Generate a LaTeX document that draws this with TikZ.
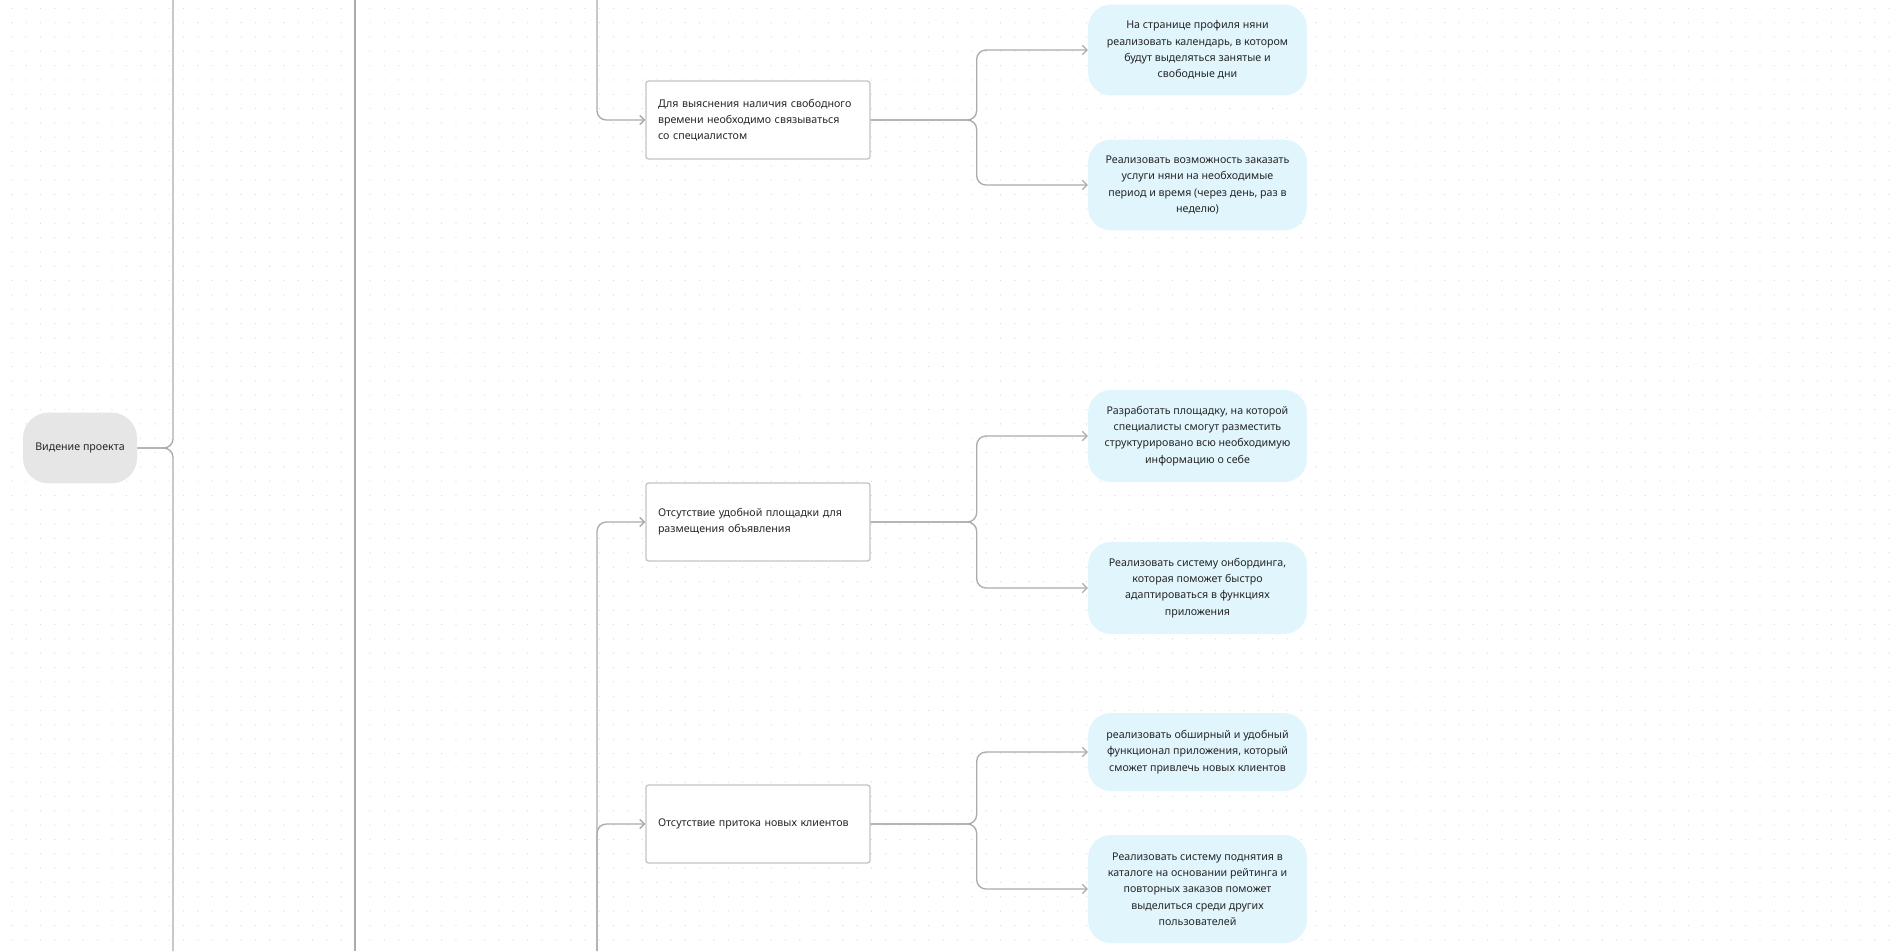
\documentclass[tikz,border=0pt]{standalone}
\usepackage{fontspec}
\setmainfont{Noto Sans}
\usetikzlibrary{arrows.meta}

\definecolor{linegray}{HTML}{ABABAB}
\definecolor{boxgray}{HTML}{C4C4C4}
\definecolor{rootfill}{HTML}{E6E6E6}
\definecolor{leaffill}{HTML}{E1F5FD}
\definecolor{dotgray}{HTML}{DCDCDC}
\definecolor{ink}{HTML}{262626}

\begin{document}
\begin{tikzpicture}[x=0.75pt, y=-0.75pt,
  every node/.style={font=\fontsize{8}{12.2}\selectfont, text=ink},
  conn/.style={draw=linegray, line width=1pt, rounded corners=7pt},
  arr/.style={conn, -{Straight Barb[length=3.5pt,width=7pt]}},
  rootbox/.style={fill=rootfill, rounded corners=19pt, minimum width=85.5pt, minimum height=53pt},
  probbox/.style={draw=boxgray, line width=1pt, fill=white, rounded corners=2pt,
    text width=150pt, inner xsep=9pt, minimum height=58.5pt, align=left},
  leafbox/.style={fill=leaffill, rounded corners=17pt, minimum width=164pt, align=center}]

% canvas with dot grid
\fill[white] (0,0) rectangle (1894,951);
\useasboundingbox (0,0) rectangle (1894,951);
\foreach \j in {0,...,65}
  \fill[dotgray] \foreach \i in {0,...,131}{(11.7+14.33*\i, 8.3+14.33*\j) circle (0.5pt)};

% root
\node[rootbox] (vision) at (80,448) {Видение проекта};

% free ends of the long lines
\coordinate (trunkTop) at (173,0);
\coordinate (trunkBot) at (173,951);
\coordinate (midTop) at (355,0);
\coordinate (midBot) at (355,951);
\coordinate (feedTop) at (597,0);
\coordinate (feedBot) at (597,951);

% problems
\node[probbox] (freeTime) at (758,120) {Для выяснения наличия свободного\\времени необходимо связываться\\со специалистом};
\node[probbox] (noPlatform) at (758,522) {Отсутствие удобной площадки для\\размещения объявления};
\node[probbox] (noClients) at (758,824) {Отсутствие притока новых клиентов};

% solutions
\node[leafbox, minimum height=68pt] (calendar) at (1197.5,50) {На странице профиля няни\\реализовать календарь, в котором\\будут выделяться занятые и\\свободные дни};
\node[leafbox, minimum height=68pt] (booking) at (1197.5,185) {Реализовать возможность заказать\\услуги няни на необходимые\\период и время (через день, раз в\\неделю)};
\node[leafbox, minimum height=69pt] (platform) at (1197.5,436) {Разработать площадку, на которой\\специалисты смогут разместить\\структурировано всю необходимую\\информацию о себе};
\node[leafbox, minimum height=69pt] (onboarding) at (1197.5,588) {Реализовать систему онбординга,\\которая поможет быстро\\адаптироваться в функциях\\приложения};
\node[leafbox, minimum height=58.5pt] (features) at (1197.5,752) {реализовать обширный и удобный\\функционал приложения, который\\сможет привлечь новых клиентов};
\node[leafbox, minimum height=81pt] (ranking) at (1197.5,889) {Реализовать систему поднятия в\\каталоге на основании рейтинга и\\повторных заказов поможет\\выделиться среди других\\пользователей};

% connectors
\draw[conn] (trunkTop) |- (vision.east);
\draw[conn] (trunkBot) |- (vision.east);
\draw[conn] (midTop) -- (midBot);
\draw[arr] (feedTop) |- (freeTime.west);
\draw[arr] (feedBot) |- (noPlatform.west);
\draw[arr] (feedBot) |- (noClients.west);
\foreach \p/\s in {freeTime/calendar, freeTime/booking, noPlatform/platform,
  noPlatform/onboarding, noClients/features, noClients/ranking}
  \draw[arr] (\p.east) -- ++(106,0) |- (\s.west);
\end{tikzpicture}
\end{document}
